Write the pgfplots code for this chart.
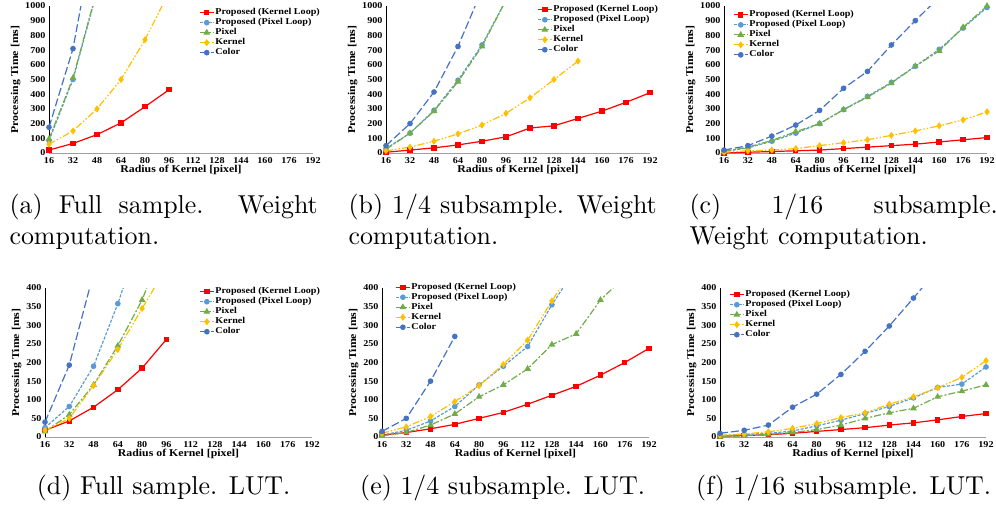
\documentclass[border=0pt]{standalone}
\usepackage{graphicx}
\usepackage{fontspec}
\usepackage{pgfplots}
\pgfplotsset{compat=1.18}
\newfontfamily\chartfont{Liberation Serif Bold}
\definecolor{cRed}{HTML}{FF0000}
\definecolor{cLB}{HTML}{5B9BD5}
\definecolor{cGr}{HTML}{70AD47}
\definecolor{cYe}{HTML}{FFC000}
\definecolor{cBl}{HTML}{4472C4}
\newcommand{\chf}{\chartfont\fontsize{9}{10}\selectfont}
\newcommand{\chl}{\chartfont\fontsize{10.5}{11}\selectfont}
\newcommand{\sx}[1]{\scalebox{1.13}[1]{#1}}
\newcommand{\leg}{\legend{\sx{Proposed (Kernel Loop)},\sx{Proposed (Pixel Loop)},\sx{Pixel},\sx{Kernel},\sx{Color}}}
\pgfplotsset{
  panel/.style={
    scale only axis, xmin=16, xmax=192, ymin=0,
    xtick={16,32,...,192},
    axis x line=bottom, axis y line=left,
    axis line style={-},
    x axis line style={draw=gray!75, line width=1bp},
    y axis line style={draw=black, line width=0.8bp},
    major tick length=0pt,
    /pgf/number format/assume math mode=true,
    /pgf/number format/1000 sep={},
    xticklabel={\chf\sx{\pgfmathprintnumber{\tick}}},
    yticklabel={\chf\sx{\pgfmathprintnumber{\tick}}},
    xticklabel style={yshift=-1bp},
    xlabel={\chl\sx{Radius of Kernel [pixel]}},
    ylabel={\chl\sx{Processing Time [ms]}},
    xlabel style={yshift=5bp},
    ylabel style={yshift=-2bp},
    clip=true,
    legend cell align=left,
    legend style={draw=none, fill=none, anchor=north west, font=\chf,
      inner sep=0pt, row sep=0pt,
      nodes={inner sep=1bp, text height=6bp, text depth=2bp}},
    legend image code/.code={\draw[mark repeat=2,mark phase=2,##1] plot coordinates {(0bp,0bp) (7bp,0bp) (14bp,0bp)};},
  },
  top/.style={panel, width=264bp, height=147bp, ymax=1000, ytick={0,100,...,1000}},
  bot/.style={panel, width=267bp, height=149bp, ymax=400, ytick={0,50,...,400}},
  sRed/.style={color=cRed, line width=1.2bp, solid, mark=square*, mark size=2.1bp, mark options={solid}},
  sLB/.style={color=cLB, line width=1.2bp, dash pattern=on 3bp off 1.5bp, mark=*, mark size=2.2bp, mark options={solid}},
  sGr/.style={color=cGr, line width=1.2bp, dash pattern=on 7bp off 2bp on 2bp off 2bp, mark=triangle*, mark size=2.7bp, mark options={solid}},
  sYe/.style={color=cYe, line width=1.2bp, dash pattern=on 7bp off 2bp on 1.5bp off 2bp on 1.5bp off 2bp, mark=diamond*, mark size=2.6bp, mark options={solid}},
  sBl/.style={color=cBl, line width=1.2bp, dash pattern=on 8bp off 3bp, mark=*, mark size=2.2bp, mark options={solid}},
}
\begin{document}
\begin{tikzpicture}
\path[use as bounding box] (0,0) rectangle (996bp,-510bp);
% (a)
\begin{axis}[top, at={(49bp,-153bp)}, anchor=south west, legend style={at={(0.568,0.99)}}]
\addplot[sRed] coordinates {(16,20) (32,65) (48,125) (64,205) (80,315) (96,430)};
\addplot[sLB] coordinates {(16,85) (32,500) (48,1100)};
\addplot[sGr] coordinates {(16,95) (32,510) (48,1110)};
\addplot[sYe] coordinates {(16,60) (32,150) (48,300) (64,500) (80,770) (96,1095)};
\addplot[sBl] coordinates {(16,175) (32,710) (48,1590)};
\leg
\end{axis}
% (b)
\begin{axis}[top, at={(386bp,-153bp)}, anchor=south west, legend style={at={(0.572,1.01)}}]
\addplot[sRed] coordinates {(16,5) (32,20) (48,35) (64,55) (80,80) (96,110) (112,170) (128,185) (144,235) (160,285) (176,345) (192,410)};
\addplot[sLB] coordinates {(16,30) (32,135) (48,290) (64,495) (80,735) (96,1040)};
\addplot[sGr] coordinates {(16,25) (32,135) (48,285) (64,485) (80,725) (96,1040)};
\addplot[sYe] coordinates {(16,15) (32,40) (48,80) (64,130) (80,190) (96,270) (112,375) (128,500) (144,625)};
\addplot[sBl] coordinates {(16,50) (32,200) (48,415) (64,725) (80,1110)};
\leg
\end{axis}
% (c)
\begin{axis}[top, width=263bp, at={(724bp,-153bp)}, anchor=south west, legend style={at={(0.034,0.975)}}]
\addplot[sRed] coordinates {(16,0) (32,5) (48,10) (64,15) (80,20) (96,30) (112,40) (128,50) (144,60) (160,75) (176,90) (192,105)};
\addplot[sLB] coordinates {(16,10) (32,35) (48,80) (64,135) (80,200) (96,295) (112,385) (128,480) (144,590) (160,705) (176,850) (192,990)};
\addplot[sGr] coordinates {(16,10) (32,40) (48,85) (64,145) (80,200) (96,295) (112,380) (128,475) (144,590) (160,695) (176,855) (192,1000)};
\addplot[sYe] coordinates {(16,5) (32,15) (48,20) (64,30) (80,50) (96,70) (112,90) (128,120) (144,150) (160,185) (176,225) (192,280)};
\addplot[sBl] coordinates {(16,20) (32,50) (48,115) (64,190) (80,290) (96,440) (112,555) (128,735) (144,900) (160,1060)};
\leg
\end{axis}
% (d)
\begin{axis}[bot, at={(45bp,-437bp)}, anchor=south west, legend style={at={(0.577,1.01)}}]
\addplot[sRed] coordinates {(16,18) (32,43) (48,80) (64,127) (80,185) (96,262)};
\addplot[sLB] coordinates {(16,25) (32,82) (48,190) (64,358) (80,550)};
\addplot[sGr] coordinates {(16,15) (32,60) (48,140) (64,245) (80,368) (96,535)};
\addplot[sYe] coordinates {(16,18) (32,50) (48,138) (64,235) (80,345) (96,455)};
\addplot[sBl] coordinates {(16,40) (32,193) (48,440)};
\leg
\end{axis}
% (e)
\begin{axis}[bot, at={(382bp,-437bp)}, anchor=south west, legend style={at={(0.049,1.04)}}]
\addplot[sRed] coordinates {(16,5) (32,12) (48,22) (64,34) (80,50) (96,66) (112,88) (128,112) (144,136) (160,166) (176,200) (192,238)};
\addplot[sLB] coordinates {(16,5) (32,18) (48,43) (64,82) (80,140) (96,190) (112,243) (128,355) (144,455)};
\addplot[sGr] coordinates {(16,3) (32,12) (48,32) (64,62) (80,108) (96,140) (112,183) (128,248) (144,277) (160,368) (176,430)};
\addplot[sYe] coordinates {(16,10) (32,27) (48,55) (64,95) (80,138) (96,195) (112,260) (128,365) (144,470)};
\addplot[sBl] coordinates {(16,15) (32,50) (48,150) (64,270)};
\leg
\end{axis}
% (f)
\begin{axis}[bot, width=266bp, at={(720bp,-437bp)}, anchor=south west, legend style={at={(0.034,0.99)}}]
\addplot[sRed] coordinates {(16,2) (32,4) (48,6) (64,10) (80,15) (96,20) (112,25) (128,32) (144,38) (160,46) (176,55) (192,63)};
\addplot[sLB] coordinates {(16,3) (32,7) (48,10) (64,16) (80,30) (96,45) (112,63) (128,82) (144,105) (160,133) (176,142) (192,188)};
\addplot[sGr] coordinates {(16,1) (32,3) (48,7) (64,12) (80,20) (96,32) (112,50) (128,65) (144,77) (160,108) (176,123) (192,140)};
\addplot[sYe] coordinates {(16,5) (32,8) (48,14) (64,23) (80,36) (96,52) (112,65) (128,88) (144,108) (160,132) (176,160) (192,205)};
\addplot[sBl] coordinates {(16,10) (32,18) (48,32) (64,80) (80,115) (96,168) (112,230) (128,298) (144,373) (160,450)};
\leg
\end{axis}
% captions
\node[anchor=base west, scale=2.6, inner sep=0pt] at (9bp,-213bp) {\parbox[t]{119pt}{(a) Full sample. Weight computation.}};
\node[anchor=base west, scale=2.6, inner sep=0pt] at (348bp,-213bp) {\parbox[t]{119pt}{(b) 1/4 subsample. Weight computation.}};
\node[anchor=base west, scale=2.6, inner sep=0pt] at (689bp,-213bp) {\parbox[t]{119pt}{(c) 1/16 subsample. Weight computation.}};
\node[anchor=base west, scale=2.6, inner sep=0pt] at (9bp,-494bp) {\parbox[t]{119pt}{\centering (d) Full sample. LUT.}};
\node[anchor=base west, scale=2.6, inner sep=0pt] at (348bp,-494bp) {\parbox[t]{119pt}{\centering (e) 1/4 subsample. LUT.}};
\node[anchor=base west, scale=2.6, inner sep=0pt] at (689bp,-494bp) {\parbox[t]{119pt}{\centering (f) 1/16 subsample. LUT.}};
\end{tikzpicture}
\end{document}
